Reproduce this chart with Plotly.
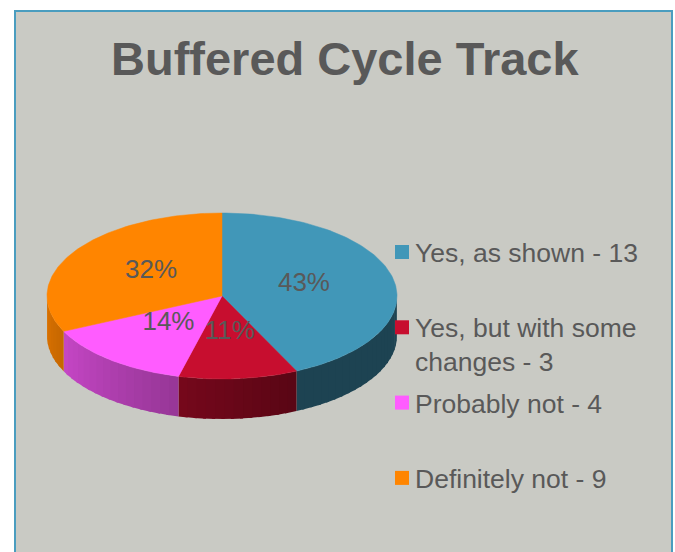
import numpy as np
import plotly.graph_objects as go

# chart data
labels = ["Yes, as shown", "Yes, but with some<br>changes", "Probably not", "Definitely not"]
counts = [13, 3, 4, 9]
percents = [43, 11, 14, 32]
colors = ["#4197B8", "#C70E2F", "#FF5CFF", "#FF8500"]

W, H = 675, 552
TXT = "#595959"
# pie geometry (pixel space)
CX, CY = 222, 296
RX, RY = 175, 83
DEPTH = 40


def pt(theta):
    # theta in degrees, clockwise from 12 o'clock
    t = np.radians(theta)
    return CX + RX * np.sin(t), CY - RY * np.cos(t)


def shade(hexcol, f):
    h = hexcol.lstrip("#")
    r, g, b = [int(h[i:i + 2], 16) for i in (0, 2, 4)]
    return "rgb(%d,%d,%d)" % (r * f, g * f, b * f)


def light(theta):
    # darker at the front right, lighter toward the left side
    f = 0.45 + (theta - 155) / (270 - 155) * 0.42
    return min(max(f, 0.45), 0.87)


fig = go.Figure()

# slice angles
total = float(sum(percents))
bounds = np.concatenate([[0], np.cumsum(percents) / total * 360])

# side walls (only the front half is visible), drawn as overlapping strips
for i in range(len(percents)):
    a0, a1 = max(bounds[i], 90), min(bounds[i + 1], 270)
    if a1 <= a0:
        continue
    steps = np.linspace(a0, a1, max(int((a1 - a0) / 3), 1) + 1)
    for s0, s1 in zip(steps[:-1], steps[1:]):
        arc = np.linspace(s0, min(s1 + 1.0, a1), 5)
        xs, ys = pt(arc)
        x = list(xs) + list(xs[::-1])
        y = list(ys) + list((ys + DEPTH)[::-1])
        c = shade(colors[i], light((s0 + s1) / 2))
        fig.add_trace(go.Scatter(x=x, y=y, fill="toself", fillcolor=c, mode="lines",
                                 line=dict(color=c, width=0), hoverinfo="skip",
                                 showlegend=False))

# top surface
for i in range(len(percents)):
    arc = np.linspace(bounds[i], bounds[i + 1], 120)
    xs, ys = pt(arc)
    x = [CX] + list(xs) + [CX]
    y = [CY] + list(ys) + [CY]
    fig.add_trace(go.Scatter(x=x, y=y, fill="toself", fillcolor=colors[i], mode="lines",
                             line=dict(color=colors[i], width=0.5),
                             name=labels[i], hoverinfo="skip", showlegend=False))

# percentage labels
mids = (bounds[:-1] + bounds[1:]) / 2
lx, ly = pt(mids)
lx = CX + (lx - CX) * 0.48
ly = CY + (ly - CY) * 0.48 - 3
fig.add_trace(go.Scatter(x=lx, y=ly, mode="text", text=["%d%%" % p for p in percents],
                         textfont=dict(family="Liberation Sans, Arial", size=26, color=TXT),
                         hoverinfo="skip", showlegend=False))

# legend
row_y = [252 + i * 75.3 for i in range(len(labels))]
fig.add_trace(go.Scatter(x=[402] * len(labels), y=row_y, mode="markers",
                         marker=dict(symbol="square", size=14, color=colors, line=dict(width=0)),
                         hoverinfo="skip", showlegend=False))
for i in range(len(labels)):
    fig.add_annotation(x=413, y=row_y[i] - 16, xref="x", yref="y", xanchor="left", yanchor="top",
                       text="%s - %d" % (labels[i], counts[i]), showarrow=False, align="left",
                       font=dict(family="Liberation Sans, Arial", size=26.5, color=TXT))

# title
fig.add_annotation(x=345, y=58, xref="x", yref="y", xanchor="center", yanchor="middle",
                   text="<b>Buffered Cycle Track</b>", showarrow=False,
                   font=dict(family="Liberation Sans, Arial", size=47, color=TXT))

# chart frame
fig.add_shape(type="rect", x0=15, y0=11, x1=672, y1=W, xref="x", yref="y",
              fillcolor="#C9CAC4", line=dict(color="#4A9DBF", width=2), layer="below")

fig.update_layout(
    width=W, height=H,
    margin=dict(l=0, r=0, t=0, b=0),
    paper_bgcolor="white", plot_bgcolor="white",
    xaxis=dict(range=[0, W], visible=False, fixedrange=True),
    yaxis=dict(range=[H, 0], visible=False, fixedrange=True),
)

fig.write_html("out.html", config={"displayModeBar": False},
               post_script="document.body.style.margin='0px';")
